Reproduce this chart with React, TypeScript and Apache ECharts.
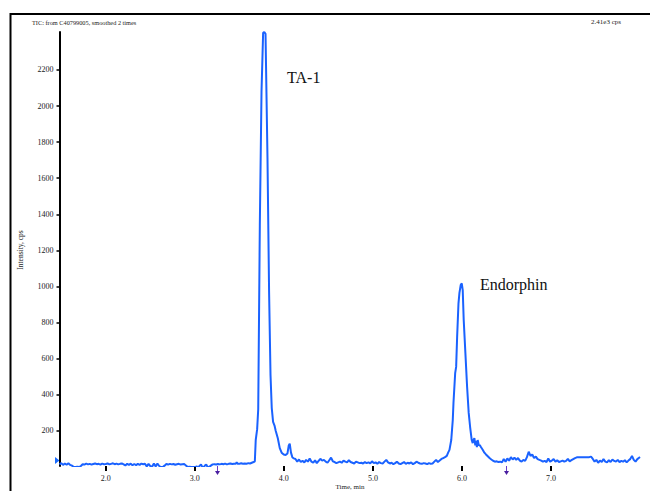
import React, { useEffect, useRef } from "react";
import * as echarts from "echarts";

const TITLE = "TIC: from C40799005, smoothed 2 times";
const MAX_LABEL = "2.41e3 cps";
const X_NAME = "Time, min";
const Y_NAME = "Intensity, cps";

const xTicks = [2, 3, 4, 5, 6, 7];
const yTicks = [200, 400, 600, 800, 1000, 1200, 1400, 1600, 1800, 2000, 2200];

const peakLabels = ["TA-1", "Endorphin"];
const arrowTimes = [3.25, 6.49];

// baseline before TA-1
const timesA = [
  1.48, 1.5, 1.52, 1.54, 1.56, 1.58, 1.6, 1.62, 1.64, 1.66, 1.68, 1.7, 1.72, 1.74, 1.76, 1.78, 1.8, 1.82, 1.84, 1.86,
  1.88, 1.9, 1.92, 1.94, 1.96, 1.98, 2.0, 2.02, 2.04, 2.06, 2.08, 2.1, 2.12, 2.14, 2.16, 2.18, 2.2, 2.22, 2.24, 2.26,
  2.28, 2.3, 2.32, 2.34, 2.36, 2.38, 2.4, 2.42, 2.44, 2.46, 2.48, 2.5, 2.52, 2.54, 2.56, 2.58, 2.6, 2.62, 2.64, 2.66,
  2.68, 2.7, 2.72, 2.74, 2.76, 2.78, 2.8, 2.82, 2.84, 2.86, 2.88, 2.9, 2.92, 2.94, 2.96, 2.98, 3.0, 3.02, 3.04, 3.06,
  3.07, 3.08, 3.1, 3.12, 3.13, 3.14, 3.16, 3.18, 3.2, 3.22, 3.24, 3.26, 3.28, 3.3, 3.32, 3.34, 3.36, 3.38, 3.4, 3.42,
  3.44, 3.46, 3.47, 3.48, 3.5, 3.52, 3.54, 3.56, 3.58, 3.6, 3.62, 3.64, 3.66,
];
const valuesA = [
  14, 22, 12, 20, 13, 21, 12, 8, 0, 0, 2, 0, 6, 16, 14, 19, 15, 18, 14, 17,
  20, 16, 18, 14, 19, 16, 17, 20, 15, 18, 21, 16, 19, 15, 18, 20, 15, 9, 18, 12,
  19, 10, 17, 11, 18, 12, 19, 16, 18, 4, 18, 5, 2, 20, 4, 19, 6, 0, 0, 8,
  17, 14, 18, 15, 17, 13, 16, 18, 14, 16, 17, 9, 0, 2, 0, 1, 0, 3, 0, 10,
  14, 4, 0, 12, 14, 3, 0, 8, 15, 16, 14, 17, 15, 18, 16, 19, 15, 18, 20, 17,
  19, 18, 26, 19, 18, 21, 19, 20, 18, 22, 20, 24, 28,
];

// TA-1 peak
const timesB = [
  3.674, 3.684, 3.7, 3.712, 3.73, 3.749, 3.767, 3.78, 3.794, 3.816, 3.834, 3.85, 3.864, 3.879, 3.895, 3.909, 3.932,
  3.954, 3.975, 3.998, 4.02, 4.04, 4.055, 4.066, 4.08, 4.095, 4.112, 4.13,
];
const valuesB = [
  32, 150, 210, 320, 1340, 2080, 2405, 2410, 2400, 1713, 970, 510, 327, 250, 230, 200, 160,
  105, 80, 70, 67, 75, 120, 130, 80, 55, 48, 45,
];

// baseline between peaks
const timesC = [
  4.15, 4.17, 4.19, 4.21, 4.23, 4.25, 4.27, 4.29, 4.31, 4.33, 4.35, 4.37, 4.39, 4.41, 4.43, 4.45, 4.47, 4.49, 4.51, 4.53,
  4.55, 4.57, 4.59, 4.61, 4.63, 4.65, 4.67, 4.69, 4.71, 4.73, 4.75, 4.77, 4.79, 4.81, 4.83, 4.85, 4.87, 4.89, 4.91, 4.93,
  4.95, 4.97, 4.99, 5.01, 5.03, 5.05, 5.07, 5.09, 5.11, 5.13, 5.15, 5.17, 5.19, 5.21, 5.23, 5.25, 5.27, 5.29, 5.31, 5.33,
  5.35, 5.37, 5.39, 5.41, 5.43, 5.45, 5.47, 5.49, 5.51, 5.53, 5.55, 5.57, 5.59, 5.61, 5.63, 5.65, 5.67, 5.69, 5.71, 5.73,
  5.75, 5.77, 5.79, 5.81, 5.83, 5.845,
];
const valuesC = [
  30, 42, 28, 35, 26, 40, 30, 48, 30, 24, 38, 22, 34, 46, 36, 40, 30, 24, 38, 52,
  32, 28, 22, 26, 30, 24, 36, 30, 26, 38, 28, 24, 20, 30, 26, 22, 24, 20, 28, 22,
  26, 20, 32, 22, 26, 18, 28, 22, 20, 30, 40, 26, 20, 24, 16, 22, 30, 20, 16, 22,
  28, 18, 24, 20, 26, 16, 22, 30, 24, 20, 18, 22, 20, 16, 22, 18, 20, 30, 40, 28,
  36, 45, 50, 55, 62, 80,
];

// Endorphin peak
const timesD = [
  5.86, 5.88, 5.897, 5.905, 5.924, 5.935, 5.946, 5.961, 5.972, 5.987, 5.998, 6.009, 6.02, 6.039, 6.058, 6.076, 6.092,
  6.11, 6.121, 6.13, 6.14, 6.15, 6.159, 6.168, 6.177, 6.19, 6.2,
];
const valuesD = [
  95, 150, 260, 355, 520, 555, 720, 905, 965, 1010, 1017, 980, 815, 630, 445, 300, 222,
  150, 133, 150, 160, 120, 145, 110, 150, 120, 122,
];

// baseline after Endorphin
const timesE = [
  6.215, 6.235, 6.252, 6.27, 6.29, 6.31, 6.33, 6.35, 6.37, 6.39, 6.41, 6.43, 6.45, 6.47, 6.49, 6.51, 6.53, 6.55, 6.57, 6.59,
  6.61, 6.63, 6.65, 6.67, 6.69, 6.71, 6.73, 6.75, 6.77, 6.79, 6.81, 6.83, 6.85, 6.87, 6.89, 6.91, 6.93, 6.95, 6.97, 6.99,
  7.01, 7.03, 7.05, 7.07, 7.09, 7.11, 7.13, 7.15, 7.17, 7.19, 7.21, 7.23, 7.25, 7.27, 7.29, 7.31, 7.33, 7.35, 7.37, 7.39,
  7.41, 7.43, 7.45, 7.47, 7.49, 7.51, 7.53, 7.55, 7.57, 7.59, 7.61, 7.63, 7.65, 7.67, 7.69, 7.71, 7.73, 7.75, 7.77, 7.79,
  7.81, 7.83, 7.85, 7.87, 7.89, 7.91, 7.93, 7.95, 7.97, 7.99, 8.0,
];
const valuesE = [
  110, 95, 80, 70, 60, 50, 42, 35, 30, 32, 28, 30, 26, 45, 30, 48, 35, 55, 42, 52,
  40, 50, 36, 30, 40, 34, 55, 85, 62, 70, 50, 58, 44, 40, 36, 30, 34, 28, 48, 30,
  36, 44, 30, 38, 28, 32, 36, 30, 34, 46, 32, 38, 44, 50, 54, 54, 54, 54, 55, 54,
  54, 55, 58, 45, 30, 40, 24, 36, 28, 44, 30, 26, 38, 28, 42, 34, 30, 40, 28, 34,
  30, 38, 26, 36, 44, 62, 40, 30, 44, 52, 56,
];

const times = [...timesA, ...timesB, ...timesC, ...timesD, ...timesE];
const values = [...valuesA, ...valuesB, ...valuesC, ...valuesD, ...valuesE];

const SERIF = "'Liberation Serif', 'Times New Roman', serif";
const BLUE = "#1a62ff";

export default function App() {
  const ref = useRef<HTMLDivElement>(null);

  useEffect(() => {
    if (!ref.current) return;
    const chart = echarts.init(ref.current, null, { renderer: "svg" });
    const data = times.map((t, i) => [t, values[i]]);

    chart.setOption({
      animation: false,
      backgroundColor: "#ffffff",
      grid: {
        left: 59.5,
        right: 10,
        top: 32,
        bottom: 25,
        containLabel: false,
        outerBoundsMode: "none",
      },
      xAxis: {
        type: "value",
        min: 1.48,
        max: 8.0,
        axisLine: { show: false },
        splitLine: { show: false },
        axisTick: {
          show: true,
          customValues: xTicks,
          length: 5,
          lineStyle: { color: "#000", width: 2 },
        },
        axisLabel: {
          customValues: xTicks,
          formatter: (v: number) => v.toFixed(1),
          fontFamily: SERIF,
          fontSize: 8,
          color: "#222",
          margin: 8,
        },
      },
      yAxis: {
        type: "value",
        min: 6,
        max: 2410,
        axisLine: { show: true, lineStyle: { color: "#000", width: 2 } },
        splitLine: { show: false },
        axisTick: {
          show: true,
          customValues: yTicks,
          length: 3,
          lineStyle: { color: "#000", width: 1.5 },
        },
        axisLabel: {
          customValues: yTicks,
          formatter: (v: number) => String(Math.round(v)),
          fontFamily: SERIF,
          fontSize: 8,
          color: "#222",
          margin: 6,
        },
      },
      series: [
        {
          type: "line",
          data,
          showSymbol: false,
          symbol: "none",
          clip: true,
          lineStyle: { color: BLUE, width: 2 },
        },
      ],
    });

    const arrowEls: any[] = [];
    arrowTimes.forEach((t) => {
      const p = chart.convertToPixel({ gridIndex: 0 }, [t, 6]) as number[];
      const x = Math.round(p[0]) + 0.5;
      arrowEls.push({
        type: "line",
        shape: { x1: x, y1: 466, x2: x, y2: 472 },
        style: { stroke: "#6a3cc8", lineWidth: 1 },
        silent: true,
      });
      arrowEls.push({
        type: "polygon",
        shape: { points: [[x - 2.5, 471], [x + 2.5, 471], [x, 475]] },
        style: { fill: "#4a1fa0" },
        silent: true,
      });
    });

    chart.setOption({
      graphic: [
        {
          type: "line",
          shape: { x1: 10, y1: 14, x2: 650, y2: 14 },
          style: { stroke: "#000", lineWidth: 2 },
          silent: true,
        },
        {
          type: "line",
          shape: { x1: 10.5, y1: 13, x2: 10.5, y2: 491 },
          style: { stroke: "#000", lineWidth: 2 },
          silent: true,
        },
        {
          type: "text",
          x: 32,
          y: 22,
          style: { text: TITLE, font: `6.3px ${SERIF}`, fill: "#222", verticalAlign: "middle", align: "left" },
          silent: true,
        },
        {
          type: "text",
          x: 621,
          y: 22,
          style: { text: MAX_LABEL, font: `7px ${SERIF}`, fill: "#222", verticalAlign: "middle", align: "right" },
          silent: true,
        },
        {
          type: "text",
          x: 20,
          y: 250,
          rotation: Math.PI / 2,
          style: { text: Y_NAME, font: `7.5px ${SERIF}`, fill: "#222", verticalAlign: "middle", align: "center" },
          silent: true,
        },
        {
          type: "text",
          x: 350,
          y: 486.5,
          style: { text: X_NAME, font: `7px ${SERIF}`, fill: "#222", verticalAlign: "middle", align: "center" },
          silent: true,
        },
        {
          type: "text",
          x: 287,
          y: 77,
          style: { text: peakLabels[0], font: `16px ${SERIF}`, fill: "#111", verticalAlign: "middle", align: "left" },
          silent: true,
        },
        {
          type: "text",
          x: 480,
          y: 284,
          style: { text: peakLabels[1], font: `16px ${SERIF}`, fill: "#111", verticalAlign: "middle", align: "left" },
          silent: true,
        },
        {
          type: "polygon",
          shape: { points: [[55, 457], [59.5, 460.5], [55, 464]] },
          style: { fill: "#1a6cff" },
          silent: true,
        },
        ...arrowEls,
      ],
    });

    return () => chart.dispose();
  }, []);

  return (
    <div
      ref={ref}
      style={{ position: "absolute", left: 0, top: 0, width: 650, height: 491, background: "#fff" }}
    />
  );
}
